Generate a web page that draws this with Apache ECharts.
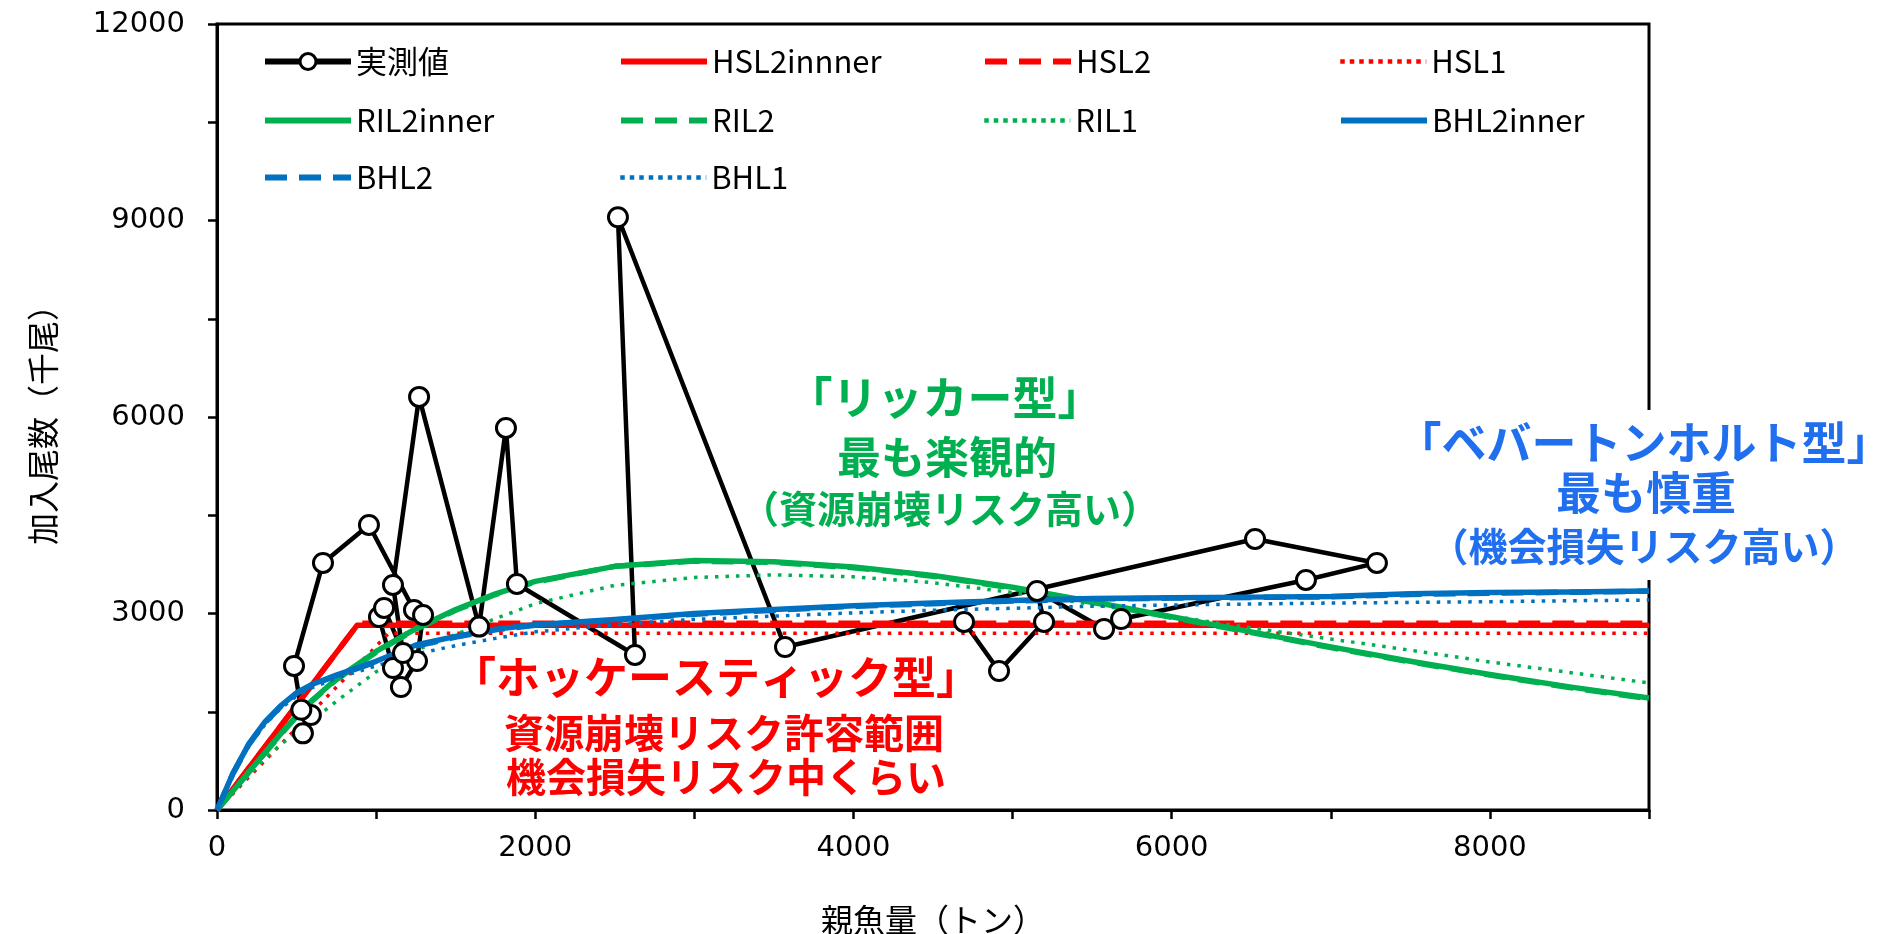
<!DOCTYPE html>
<html>
<head>
<meta charset="utf-8">
<script src="https://cdn.jsdelivr.net/npm/echarts/dist/echarts.min.js"></script>
<style>
  html, body { margin: 0; padding: 0; background: #ffffff; }
  #chart { width: 1903px; height: 934px; }
</style>
</head>
<body>
<div id="chart"></div>
<script>
// 実測値: 親魚量 (トン) と 加入尾数 (千尾)、年の順
const obsSSB = [540, 590, 530, 484, 666, 955, 1238, 1295, 1257, 1156, 1106, 1018, 1050, 1169, 1106, 1270, 1647, 1816, 1885, 2627, 2520, 3570, 6524, 7290, 6844, 5682, 5575, 5154, 5198, 4915, 4695];
const obsRec = [1170, 1450, 1530, 2199, 3772, 4352, 3054, 2978, 2275, 1878, 2168, 2947, 3085, 2397, 3436, 6307, 2800, 5833, 3451, 2367, 9050, 2489, 4138, 3772, 3512, 2916, 2764, 3344, 2871, 2122, 2871];

// ホッケースティック型 (折れ点と終点)
const hsl2innerSSB = [0, 880, 9000];
const hsl2innerRec = [0, 2820, 2820];
const hsl2SSB = [0, 890, 9000];
const hsl2Rec = [0, 2850, 2850];
const hsl1SSB = [0, 1080, 9000];
const hsl1Rec = [0, 2700, 2700];

// リッカー型・ベバートンホルト型の曲線を読む親魚量の格子
const curveSSB = [0, 100, 200, 300, 400, 500, 600, 750, 1000, 1250, 1500, 1750, 2000, 2500, 3000, 3500, 4000, 4500, 5000, 5500, 6000, 6500, 7000, 7500, 8000, 8500, 9000];
const ril2innerRec = [0, 290, 580, 870, 1160, 1440, 1680, 2000, 2420, 2770, 3060, 3300, 3490, 3720, 3810, 3790, 3710, 3580, 3400, 3180, 2950, 2720, 2490, 2270, 2070, 1880, 1710];
const ril2Rec = [0, 285, 575, 865, 1150, 1430, 1670, 1990, 2410, 2760, 3050, 3290, 3480, 3720, 3800, 3780, 3700, 3570, 3390, 3170, 2940, 2710, 2480, 2260, 2060, 1870, 1700];
const ril1Rec = [0, 270, 530, 780, 1000, 1180, 1370, 1660, 2110, 2440, 2680, 2920, 3150, 3430, 3550, 3590, 3560, 3470, 3320, 3140, 2960, 2780, 2610, 2440, 2260, 2100, 1940];
const bhl2innerRec = [0, 560, 1010, 1340, 1590, 1790, 1920, 2060, 2270, 2520, 2650, 2760, 2830, 2910, 3000, 3060, 3120, 3160, 3200, 3230, 3240, 3250, 3260, 3300, 3320, 3330, 3345];
const bhl2Rec = [0, 555, 1000, 1330, 1580, 1780, 1910, 2050, 2260, 2500, 2640, 2750, 2820, 2900, 2990, 3050, 3110, 3150, 3190, 3220, 3235, 3245, 3255, 3290, 3310, 3325, 3340];
const bhl1Rec = [0, 540, 980, 1300, 1550, 1740, 1870, 2010, 2200, 2380, 2510, 2620, 2720, 2830, 2910, 2960, 3010, 3050, 3080, 3110, 3130, 3145, 3160, 3170, 3180, 3195, 3205];

// 軸の目盛
const xTicks = { min: 0, max: 9000, step: 1000, labelStep: 2000 };
const yTicks = { min: 0, max: 12000, step: 1500, labelStep: 3000 };

const RED = '#FF0000', GREEN = '#00B050', BLUE = '#0070C0';
const DOT = [3.5, 7], DASH = [22, 12];
const DOT_W = 3.5, LINE_W = 5.5;
const CJK = '"Noto Sans CJK JP", "Noto Sans", sans-serif';

const pairs = (xs, ys) => xs.map((x, i) => [x, ys[i]]);

function curve(name, xs, ys, color, type, width) {
  return {
    name, type: 'line', data: pairs(xs, ys),
    symbol: 'none', smooth: false, silent: true,
    lineStyle: { color, type, width, cap: 'butt', join: 'round' },
    itemStyle: { color },
    emphasis: { disabled: true }
  };
}

const series = [
  {
    name: '実測値', type: 'line', data: pairs(obsSSB, obsRec),
    symbol: 'circle', symbolSize: 19, showSymbol: true, silent: true,
    lineStyle: { color: '#000', width: 4.5, join: 'round' },
    itemStyle: { color: '#fff', borderColor: '#000', borderWidth: 3 },
    emphasis: { disabled: true }
  },
  curve('HSL2innner', hsl2innerSSB, hsl2innerRec, RED, 'solid', LINE_W),
  curve('HSL2', hsl2SSB, hsl2Rec, RED, DASH, LINE_W),
  curve('HSL1', hsl1SSB, hsl1Rec, RED, DOT, DOT_W),
  curve('RIL2inner', curveSSB, ril2innerRec, GREEN, 'solid', LINE_W),
  curve('RIL2', curveSSB, ril2Rec, GREEN, DASH, LINE_W),
  curve('RIL1', curveSSB, ril1Rec, GREEN, DOT, DOT_W),
  curve('BHL2inner', curveSSB, bhl2innerRec, BLUE, 'solid', LINE_W),
  curve('BHL2', curveSSB, bhl2Rec, BLUE, DASH, LINE_W),
  curve('BHL1', curveSSB, bhl1Rec, BLUE, DOT, DOT_W)
];

// 凡例: 4列 × 3行
const legendCols = [257, 613, 977, 1333];
const legendRows = [41, 100, 157];
const legends = series.map((s, i) => ({
  show: true,
  data: [s.name],
  left: legendCols[i % 4],
  top: legendRows[Math.floor(i / 4)],
  itemWidth: 86, itemHeight: 20,
  selectedMode: false,
  textStyle: { color: '#000', fontFamily: CJK, fontSize: 31 },
  lineStyle: {
    color: s.lineStyle.color,
    width: s.lineStyle.width === DOT_W ? 4.5 : 6,
    type: s.lineStyle.type === DOT ? [4.5, 5] : s.lineStyle.type,
    cap: 'butt'
  },
  itemStyle: i === 0
    ? { color: '#fff', borderColor: '#000', borderWidth: 3 }
    : { opacity: 0 }
}));

// 注記 (タイプごとの説明)
function label(text, x, y, color, size) {
  return {
    type: 'text', x, y, z: 110, silent: true,
    style: {
      text, fill: color, font: `bold ${size}px ${CJK}`,
      textAlign: 'center', textVerticalAlign: 'middle'
    }
  };
}
const NOTE_BLUE = '#1F6FEF';
const graphics = [
  { type: 'rect', z: 100, silent: true, shape: { x: 1418, y: 410, width: 456, height: 170 }, style: { fill: '#ffffff' } },
  label('「ベバートンホルト型」', 1644, 443, NOTE_BLUE, 45),
  label('最も慎重', 1646, 493, NOTE_BLUE, 45),
  label('（機会損失リスク高い）', 1644, 546, NOTE_BLUE, 39),
  label('「リッカー型」', 945, 398, GREEN, 45),
  label('最も楽観的', 947, 457, GREEN, 44),
  label('（資源崩壊リスク高い）', 950, 509, GREEN, 38),
  label('「ホッケースティック型」', 716, 677, RED, 44),
  label('資源崩壊リスク許容範囲', 724, 733, RED, 40),
  label('機会損失リスク中くらい', 726, 777, RED, 40)
];

const axisCommon = {
  type: 'value',
  axisLine: { show: true, onZero: false, lineStyle: { color: '#000', width: 3 } },
  axisTick: { show: true, inside: false, length: 9, lineStyle: { color: '#000', width: 2.5 } },
  splitLine: { show: false },
  minorTick: { show: false },
  nameTextStyle: { color: '#000', fontFamily: CJK, fontSize: 32 }
};

const option = {
  animation: false,
  backgroundColor: '#ffffff',
  grid: {
    left: 217, right: 254, top: 24, bottom: 124,
    containLabel: false, outerBoundsMode: 'none',
    show: true, borderColor: '#000', borderWidth: 3, backgroundColor: 'transparent'
  },
  legend: legends,
  xAxis: Object.assign({}, axisCommon, {
    min: xTicks.min, max: xTicks.max, interval: xTicks.step,
    name: '親魚量（トン）', nameLocation: 'middle', nameGap: 94,
    axisLabel: {
      margin: 24, color: '#000', fontFamily: '"DejaVu Sans", sans-serif', fontSize: 29,
      showMaxLabel: true, showMinLabel: true,
      formatter: v => (v % xTicks.labelStep === 0 && v < xTicks.max) ? String(v) : ''
    }
  }),
  yAxis: Object.assign({}, axisCommon, {
    min: yTicks.min, max: yTicks.max, interval: yTicks.step,
    name: '加入尾数（千尾）', nameLocation: 'middle', nameGap: 158, nameRotate: 90,
    axisLabel: {
      margin: 32, color: '#000', fontFamily: '"DejaVu Sans", sans-serif', fontSize: 29,
      showMaxLabel: true, showMinLabel: true,
      formatter: v => (v % yTicks.labelStep === 0) ? String(v) : ''
    }
  }),
  series,
  graphic: graphics
};

const chart = echarts.init(document.getElementById('chart'), null, { renderer: 'canvas' });
chart.setOption(option);
</script>
</body>
</html>
